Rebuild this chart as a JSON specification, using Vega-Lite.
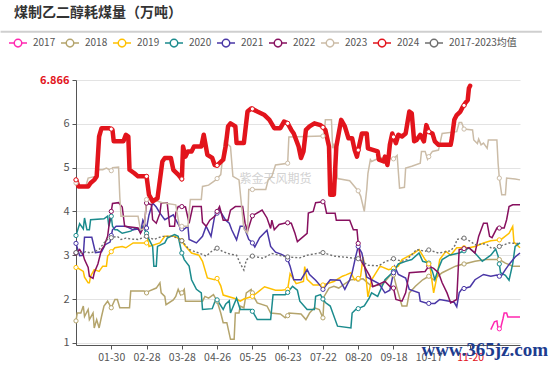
{
"$schema":"https://vega.github.io/schema/vega-lite/v6.json",
"width":444,"height":265,
"autosize":{"type":"none"},
"padding":{"left":76,"top":80,"right":30,"bottom":20},
"background":"white",
"config":{"view":{"stroke":null},"font":"Noto Sans CJK SC"},
"title":{"text":"煤制乙二醇耗煤量（万吨）","anchor":"start","frame":"group","dx":-62,"offset":8,"fontSize":14,"fontWeight":"bold","color":"#333","font":"Noto Sans CJK SC"},
"datasets":{
"lines":[
{"s":"2017","d":342,"v":1.3},{"s":"2017","d":345,"v":1.48},{"s":"2017","d":347,"v":1.5},{"s":"2017","d":348,"v":1.32},{"s":"2017","d":350,"v":1.33},{"s":"2017","d":352,"v":1.55},{"s":"2017","d":353,"v":1.68},{"s":"2017","d":355,"v":1.68},{"s":"2017","d":356,"v":1.59},{"s":"2017","d":366,"v":1.59},
{"s":"2018","d":1,"v":1.5},{"s":"2018","d":2,"v":1.68},{"s":"2018","d":5,"v":1.68},{"s":"2018","d":7,"v":1.84},{"s":"2018","d":8,"v":1.6},{"s":"2018","d":11,"v":1.76},{"s":"2018","d":12,"v":1.53},{"s":"2018","d":15,"v":1.68},{"s":"2018","d":16,"v":1.34},{"s":"2018","d":18,"v":1.53},{"s":"2018","d":20,"v":1.34},{"s":"2018","d":22,"v":1.6},{"s":"2018","d":24,"v":1.84},{"s":"2018","d":27,"v":1.95},{"s":"2018","d":30,"v":1.8},{"s":"2018","d":33,"v":1.99},{"s":"2018","d":35,"v":1.99},{"s":"2018","d":37,"v":1.8},{"s":"2018","d":45,"v":1.8},{"s":"2018","d":46,"v":2.18},{"s":"2018","d":57,"v":2.18},{"s":"2018","d":59,"v":2.14},{"s":"2018","d":61,"v":2.18},{"s":"2018","d":67,"v":2.25},{"s":"2018","d":70,"v":2.37},{"s":"2018","d":71,"v":2.14},{"s":"2018","d":74,"v":2.06},{"s":"2018","d":75,"v":1.87},{"s":"2018","d":81,"v":1.98},{"s":"2018","d":83,"v":2.06},{"s":"2018","d":85,"v":2.22},{"s":"2018","d":87,"v":2.1},{"s":"2018","d":90,"v":2.22},{"s":"2018","d":91,"v":1.95},{"s":"2018","d":105,"v":1.95},{"s":"2018","d":107,"v":2.06},{"s":"2018","d":110,"v":2.02},{"s":"2018","d":114,"v":2.1},{"s":"2018","d":117,"v":1.95},{"s":"2018","d":120,"v":1.68},{"s":"2018","d":122,"v":1.46},{"s":"2018","d":125,"v":1.46},{"s":"2018","d":128,"v":1.08},{"s":"2018","d":131,"v":1.08},{"s":"2018","d":132,"v":1.68},{"s":"2018","d":135,"v":1.68},{"s":"2018","d":136,"v":1.84},{"s":"2018","d":139,"v":1.8},{"s":"2018","d":141,"v":2.14},{"s":"2018","d":145,"v":2.22},{"s":"2018","d":147,"v":2.06},{"s":"2018","d":150,"v":1.91},{"s":"2018","d":158,"v":1.84},{"s":"2018","d":161,"v":1.68},{"s":"2018","d":169,"v":1.66},{"s":"2018","d":173,"v":1.57},{"s":"2018","d":176,"v":1.68},{"s":"2018","d":186,"v":1.66},{"s":"2018","d":190,"v":1.53},{"s":"2018","d":193,"v":1.68},{"s":"2018","d":197,"v":1.8},{"s":"2018","d":201,"v":1.76},{"s":"2018","d":204,"v":1.57},{"s":"2018","d":205,"v":2.06},{"s":"2018","d":209,"v":2.25},{"s":"2018","d":213,"v":2.29},{"s":"2018","d":217,"v":2.25},{"s":"2018","d":221,"v":2.33},{"s":"2018","d":227,"v":2.44},{"s":"2018","d":237,"v":2.46},{"s":"2018","d":244,"v":2.29},{"s":"2018","d":253,"v":2.33},{"s":"2018","d":261,"v":2.6},{"s":"2018","d":265,"v":2.22},{"s":"2018","d":269,"v":1.84},{"s":"2018","d":273,"v":1.84},{"s":"2018","d":275,"v":2.14},{"s":"2018","d":280,"v":2.29},{"s":"2018","d":286,"v":2.44},{"s":"2018","d":291,"v":2.52},{"s":"2018","d":295,"v":2.44},{"s":"2018","d":302,"v":2.6},{"s":"2018","d":313,"v":2.75},{"s":"2018","d":318,"v":2.79},{"s":"2018","d":329,"v":2.86},{"s":"2018","d":338,"v":2.9},{"s":"2018","d":349,"v":2.9},{"s":"2018","d":354,"v":2.82},{"s":"2018","d":360,"v":2.75},{"s":"2018","d":366,"v":2.75},
{"s":"2019","d":1,"v":2.72},{"s":"2019","d":3,"v":2.7},{"s":"2019","d":7,"v":2.63},{"s":"2019","d":8,"v":2.5},{"s":"2019","d":11,"v":2.37},{"s":"2019","d":12,"v":2.37},{"s":"2019","d":13,"v":2.52},{"s":"2019","d":16,"v":2.67},{"s":"2019","d":20,"v":2.63},{"s":"2019","d":23,"v":2.75},{"s":"2019","d":26,"v":2.75},{"s":"2019","d":27,"v":2.98},{"s":"2019","d":28,"v":3.01},{"s":"2019","d":33,"v":3.17},{"s":"2019","d":39,"v":3.2},{"s":"2019","d":42,"v":3.17},{"s":"2019","d":48,"v":3.28},{"s":"2019","d":59,"v":3.28},{"s":"2019","d":60,"v":3.36},{"s":"2019","d":61,"v":3.2},{"s":"2019","d":70,"v":3.28},{"s":"2019","d":74,"v":3.43},{"s":"2019","d":82,"v":3.43},{"s":"2019","d":87,"v":3.36},{"s":"2019","d":90,"v":3.24},{"s":"2019","d":96,"v":3.05},{"s":"2019","d":102,"v":3.0},{"s":"2019","d":105,"v":2.86},{"s":"2019","d":109,"v":2.48},{"s":"2019","d":115,"v":2.44},{"s":"2019","d":117,"v":2.47},{"s":"2019","d":120,"v":2.3},{"s":"2019","d":122,"v":2.09},{"s":"2019","d":133,"v":2.0},{"s":"2019","d":136,"v":1.95},{"s":"2019","d":139,"v":2.0},{"s":"2019","d":145,"v":2.05},{"s":"2019","d":151,"v":2.17},{"s":"2019","d":156,"v":2.28},{"s":"2019","d":165,"v":2.2},{"s":"2019","d":170,"v":2.2},{"s":"2019","d":175,"v":2.22},{"s":"2019","d":177,"v":2.58},{"s":"2019","d":182,"v":2.35},{"s":"2019","d":188,"v":2.4},{"s":"2019","d":189,"v":2.74},{"s":"2019","d":191,"v":2.45},{"s":"2019","d":196,"v":2.32},{"s":"2019","d":203,"v":2.32},{"s":"2019","d":213,"v":2.4},{"s":"2019","d":220,"v":2.52},{"s":"2019","d":223,"v":2.55},{"s":"2019","d":227,"v":2.6},{"s":"2019","d":230,"v":2.44},{"s":"2019","d":235,"v":2.52},{"s":"2019","d":237,"v":2.96},{"s":"2019","d":239,"v":2.6},{"s":"2019","d":241,"v":2.05},{"s":"2019","d":244,"v":2.44},{"s":"2019","d":251,"v":2.75},{"s":"2019","d":258,"v":2.67},{"s":"2019","d":266,"v":2.75},{"s":"2019","d":269,"v":2.9},{"s":"2019","d":279,"v":3.05},{"s":"2019","d":283,"v":3.13},{"s":"2019","d":288,"v":2.9},{"s":"2019","d":292,"v":2.75},{"s":"2019","d":295,"v":2.14},{"s":"2019","d":298,"v":2.55},{"s":"2019","d":300,"v":2.9},{"s":"2019","d":305,"v":3.09},{"s":"2019","d":309,"v":3.0},{"s":"2019","d":314,"v":3.17},{"s":"2019","d":324,"v":3.17},{"s":"2019","d":329,"v":3.2},{"s":"2019","d":336,"v":3.28},{"s":"2019","d":342,"v":3.33},{"s":"2019","d":350,"v":3.35},{"s":"2019","d":357,"v":3.5},{"s":"2019","d":360,"v":3.66},{"s":"2019","d":361,"v":3.3},{"s":"2019","d":366,"v":3.17},
{"s":"2020","d":1,"v":3.45},{"s":"2020","d":4,"v":3.72},{"s":"2020","d":7,"v":3.6},{"s":"2020","d":8,"v":3.85},{"s":"2020","d":10,"v":3.58},{"s":"2020","d":12,"v":3.58},{"s":"2020","d":13,"v":3.81},{"s":"2020","d":24,"v":3.83},{"s":"2020","d":27,"v":3.89},{"s":"2020","d":28,"v":3.66},{"s":"2020","d":30,"v":3.89},{"s":"2020","d":31,"v":3.66},{"s":"2020","d":33,"v":3.58},{"s":"2020","d":35,"v":3.58},{"s":"2020","d":39,"v":3.5},{"s":"2020","d":46,"v":3.55},{"s":"2020","d":50,"v":3.62},{"s":"2020","d":54,"v":3.58},{"s":"2020","d":56,"v":3.66},{"s":"2020","d":59,"v":3.5},{"s":"2020","d":61,"v":3.36},{"s":"2020","d":64,"v":3.2},{"s":"2020","d":65,"v":2.75},{"s":"2020","d":67,"v":2.75},{"s":"2020","d":68,"v":3.2},{"s":"2020","d":74,"v":3.28},{"s":"2020","d":76,"v":3.39},{"s":"2020","d":82,"v":3.47},{"s":"2020","d":85,"v":3.43},{"s":"2020","d":87,"v":3.17},{"s":"2020","d":90,"v":2.9},{"s":"2020","d":94,"v":2.75},{"s":"2020","d":96,"v":2.44},{"s":"2020","d":100,"v":2.22},{"s":"2020","d":104,"v":2.14},{"s":"2020","d":105,"v":1.76},{"s":"2020","d":113,"v":1.78},{"s":"2020","d":116,"v":2.0},{"s":"2020","d":122,"v":1.76},{"s":"2020","d":124,"v":1.88},{"s":"2020","d":127,"v":1.96},{"s":"2020","d":128,"v":1.68},{"s":"2020","d":133,"v":2.02},{"s":"2020","d":136,"v":1.76},{"s":"2020","d":145,"v":1.76},{"s":"2020","d":147,"v":1.68},{"s":"2020","d":150,"v":1.53},{"s":"2020","d":161,"v":1.53},{"s":"2020","d":163,"v":2.1},{"s":"2020","d":173,"v":2.1},{"s":"2020","d":179,"v":2.29},{"s":"2020","d":183,"v":2.2},{"s":"2020","d":185,"v":1.95},{"s":"2020","d":191,"v":1.76},{"s":"2020","d":197,"v":1.76},{"s":"2020","d":198,"v":2.06},{"s":"2020","d":202,"v":2.1},{"s":"2020","d":206,"v":1.92},{"s":"2020","d":210,"v":1.84},{"s":"2020","d":216,"v":1.38},{"s":"2020","d":227,"v":1.34},{"s":"2020","d":228,"v":1.68},{"s":"2020","d":231,"v":1.76},{"s":"2020","d":238,"v":1.84},{"s":"2020","d":242,"v":2.02},{"s":"2020","d":244,"v":2.14},{"s":"2020","d":249,"v":2.06},{"s":"2020","d":255,"v":2.44},{"s":"2020","d":261,"v":2.6},{"s":"2020","d":266,"v":2.8},{"s":"2020","d":272,"v":2.86},{"s":"2020","d":277,"v":2.9},{"s":"2020","d":283,"v":3.05},{"s":"2020","d":286,"v":2.86},{"s":"2020","d":291,"v":2.82},{"s":"2020","d":294,"v":2.63},{"s":"2020","d":296,"v":2.44},{"s":"2020","d":299,"v":2.7},{"s":"2020","d":302,"v":2.9},{"s":"2020","d":308,"v":3.0},{"s":"2020","d":316,"v":3.05},{"s":"2020","d":320,"v":3.1},{"s":"2020","d":324,"v":3.17},{"s":"2020","d":329,"v":3.05},{"s":"2020","d":335,"v":2.86},{"s":"2020","d":342,"v":3.0},{"s":"2020","d":346,"v":3.14},{"s":"2020","d":348,"v":2.98},{"s":"2020","d":350,"v":2.6},{"s":"2020","d":354,"v":2.54},{"s":"2020","d":357,"v":2.43},{"s":"2020","d":360,"v":2.8},{"s":"2020","d":362,"v":3.2},{"s":"2020","d":366,"v":3.28},
{"s":"2021","d":1,"v":3.27},{"s":"2021","d":4,"v":2.99},{"s":"2021","d":7,"v":3.0},{"s":"2021","d":8,"v":3.41},{"s":"2021","d":14,"v":3.41},{"s":"2021","d":17,"v":3.06},{"s":"2021","d":22,"v":3.08},{"s":"2021","d":25,"v":3.24},{"s":"2021","d":29,"v":3.3},{"s":"2021","d":31,"v":3.58},{"s":"2021","d":34,"v":3.66},{"s":"2021","d":42,"v":3.66},{"s":"2021","d":48,"v":3.58},{"s":"2021","d":52,"v":3.6},{"s":"2021","d":54,"v":3.52},{"s":"2021","d":56,"v":3.8},{"s":"2021","d":59,"v":3.62},{"s":"2021","d":61,"v":3.92},{"s":"2021","d":64,"v":4.19},{"s":"2021","d":67,"v":4.1},{"s":"2021","d":70,"v":3.96},{"s":"2021","d":74,"v":3.81},{"s":"2021","d":81,"v":3.92},{"s":"2021","d":83,"v":3.81},{"s":"2021","d":86,"v":3.66},{"s":"2021","d":89,"v":3.58},{"s":"2021","d":93,"v":3.66},{"s":"2021","d":94,"v":3.36},{"s":"2021","d":100,"v":3.28},{"s":"2021","d":105,"v":3.43},{"s":"2021","d":108,"v":3.66},{"s":"2021","d":112,"v":3.43},{"s":"2021","d":115,"v":3.89},{"s":"2021","d":117,"v":3.96},{"s":"2021","d":119,"v":4.03},{"s":"2021","d":124,"v":3.8},{"s":"2021","d":127,"v":3.73},{"s":"2021","d":129,"v":3.58},{"s":"2021","d":133,"v":3.35},{"s":"2021","d":136,"v":3.66},{"s":"2021","d":139,"v":3.66},{"s":"2021","d":143,"v":3.36},{"s":"2021","d":145,"v":3.31},{"s":"2021","d":148,"v":3.19},{"s":"2021","d":152,"v":3.4},{"s":"2021","d":158,"v":3.57},{"s":"2021","d":161,"v":3.2},{"s":"2021","d":165,"v":3.07},{"s":"2021","d":170,"v":3.02},{"s":"2021","d":174,"v":2.96},{"s":"2021","d":177,"v":2.75},{"s":"2021","d":180,"v":2.44},{"s":"2021","d":186,"v":2.44},{"s":"2021","d":191,"v":2.67},{"s":"2021","d":193,"v":2.56},{"s":"2021","d":198,"v":2.43},{"s":"2021","d":202,"v":2.3},{"s":"2021","d":204,"v":2.22},{"s":"2021","d":210,"v":2.44},{"s":"2021","d":218,"v":2.43},{"s":"2021","d":222,"v":2.22},{"s":"2021","d":226,"v":2.44},{"s":"2021","d":228,"v":2.6},{"s":"2021","d":231,"v":2.98},{"s":"2021","d":233,"v":3.2},{"s":"2021","d":236,"v":3.05},{"s":"2021","d":240,"v":2.5},{"s":"2021","d":244,"v":2.44},{"s":"2021","d":250,"v":2.35},{"s":"2021","d":255,"v":2.14},{"s":"2021","d":259,"v":2.2},{"s":"2021","d":263,"v":2.74},{"s":"2021","d":266,"v":2.56},{"s":"2021","d":272,"v":2.48},{"s":"2021","d":275,"v":2.22},{"s":"2021","d":283,"v":2.14},{"s":"2021","d":284,"v":1.95},{"s":"2021","d":290,"v":1.9},{"s":"2021","d":296,"v":1.9},{"s":"2021","d":300,"v":1.99},{"s":"2021","d":308,"v":1.95},{"s":"2021","d":312,"v":1.92},{"s":"2021","d":314,"v":1.82},{"s":"2021","d":316,"v":2.14},{"s":"2021","d":318,"v":2.22},{"s":"2021","d":325,"v":2.28},{"s":"2021","d":329,"v":2.44},{"s":"2021","d":336,"v":2.56},{"s":"2021","d":342,"v":2.52},{"s":"2021","d":347,"v":2.55},{"s":"2021","d":350,"v":2.5},{"s":"2021","d":354,"v":2.67},{"s":"2021","d":357,"v":2.79},{"s":"2021","d":362,"v":2.96},{"s":"2021","d":366,"v":3.05},
{"s":"2022","d":1,"v":3.05},{"s":"2022","d":4,"v":3.13},{"s":"2022","d":7,"v":3.0},{"s":"2022","d":8,"v":2.9},{"s":"2022","d":11,"v":2.72},{"s":"2022","d":12,"v":2.52},{"s":"2022","d":15,"v":2.47},{"s":"2022","d":16,"v":2.6},{"s":"2022","d":19,"v":2.8},{"s":"2022","d":22,"v":3.13},{"s":"2022","d":24,"v":3.2},{"s":"2022","d":27,"v":3.43},{"s":"2022","d":29,"v":3.87},{"s":"2022","d":31,"v":4.18},{"s":"2022","d":36,"v":4.2},{"s":"2022","d":39,"v":4.1},{"s":"2022","d":41,"v":3.66},{"s":"2022","d":52,"v":3.62},{"s":"2022","d":54,"v":3.5},{"s":"2022","d":57,"v":3.66},{"s":"2022","d":59,"v":4.19},{"s":"2022","d":63,"v":4.15},{"s":"2022","d":64,"v":3.81},{"s":"2022","d":67,"v":3.73},{"s":"2022","d":70,"v":3.96},{"s":"2022","d":71,"v":4.19},{"s":"2022","d":76,"v":4.19},{"s":"2022","d":78,"v":3.66},{"s":"2022","d":82,"v":3.66},{"s":"2022","d":83,"v":3.96},{"s":"2022","d":85,"v":4.11},{"s":"2022","d":91,"v":4.1},{"s":"2022","d":94,"v":3.73},{"s":"2022","d":97,"v":4.11},{"s":"2022","d":104,"v":4.11},{"s":"2022","d":105,"v":3.75},{"s":"2022","d":108,"v":3.66},{"s":"2022","d":111,"v":3.8},{"s":"2022","d":115,"v":3.89},{"s":"2022","d":119,"v":4.11},{"s":"2022","d":122,"v":3.8},{"s":"2022","d":126,"v":3.8},{"s":"2022","d":128,"v":4.03},{"s":"2022","d":132,"v":4.11},{"s":"2022","d":138,"v":4.11},{"s":"2022","d":140,"v":3.73},{"s":"2022","d":142,"v":3.55},{"s":"2022","d":146,"v":3.9},{"s":"2022","d":154,"v":4.03},{"s":"2022","d":158,"v":3.85},{"s":"2022","d":161,"v":3.61},{"s":"2022","d":162,"v":3.8},{"s":"2022","d":164,"v":3.58},{"s":"2022","d":168,"v":3.7},{"s":"2022","d":174,"v":3.74},{"s":"2022","d":178,"v":3.73},{"s":"2022","d":181,"v":3.5},{"s":"2022","d":183,"v":3.31},{"s":"2022","d":191,"v":3.5},{"s":"2022","d":192,"v":3.96},{"s":"2022","d":196,"v":4.0},{"s":"2022","d":198,"v":4.2},{"s":"2022","d":205,"v":4.22},{"s":"2022","d":207,"v":3.96},{"s":"2022","d":214,"v":3.96},{"s":"2022","d":215,"v":3.8},{"s":"2022","d":226,"v":3.8},{"s":"2022","d":229,"v":3.58},{"s":"2022","d":232,"v":3.58},{"s":"2022","d":233,"v":3.27},{"s":"2022","d":235,"v":2.89},{"s":"2022","d":239,"v":2.7},{"s":"2022","d":243,"v":2.5},{"s":"2022","d":245,"v":2.28},{"s":"2022","d":251,"v":2.35},{"s":"2022","d":255,"v":2.4},{"s":"2022","d":259,"v":2.29},{"s":"2022","d":262,"v":2.25},{"s":"2022","d":264,"v":1.99},{"s":"2022","d":269,"v":1.95},{"s":"2022","d":272,"v":2.14},{"s":"2022","d":275,"v":2.6},{"s":"2022","d":288,"v":2.63},{"s":"2022","d":291,"v":2.75},{"s":"2022","d":295,"v":2.7},{"s":"2022","d":299,"v":2.6},{"s":"2022","d":302,"v":2.37},{"s":"2022","d":306,"v":2.14},{"s":"2022","d":309,"v":1.91},{"s":"2022","d":314,"v":1.99},{"s":"2022","d":316,"v":3.13},{"s":"2022","d":324,"v":3.17},{"s":"2022","d":329,"v":3.05},{"s":"2022","d":332,"v":3.43},{"s":"2022","d":336,"v":3.73},{"s":"2022","d":339,"v":3.73},{"s":"2022","d":341,"v":3.43},{"s":"2022","d":343,"v":3.4},{"s":"2022","d":347,"v":3.62},{"s":"2022","d":353,"v":3.62},{"s":"2022","d":355,"v":3.81},{"s":"2022","d":357,"v":4.11},{"s":"2022","d":360,"v":4.15},{"s":"2022","d":366,"v":4.15},
{"s":"2023","d":1,"v":4.65},{"s":"2023","d":3,"v":4.57},{"s":"2023","d":9,"v":4.57},{"s":"2023","d":11,"v":4.76},{"s":"2023","d":17,"v":4.8},{"s":"2023","d":19,"v":4.95},{"s":"2023","d":23,"v":4.95},{"s":"2023","d":26,"v":4.99},{"s":"2023","d":30,"v":4.93},{"s":"2023","d":31,"v":5.0},{"s":"2023","d":36,"v":5.01},{"s":"2023","d":37,"v":4.34},{"s":"2023","d":38,"v":3.89},{"s":"2023","d":52,"v":3.89},{"s":"2023","d":54,"v":3.58},{"s":"2023","d":57,"v":3.6},{"s":"2023","d":59,"v":4.27},{"s":"2023","d":64,"v":4.27},{"s":"2023","d":72,"v":4.2},{"s":"2023","d":83,"v":4.15},{"s":"2023","d":86,"v":3.66},{"s":"2023","d":93,"v":3.66},{"s":"2023","d":95,"v":4.27},{"s":"2023","d":104,"v":4.27},{"s":"2023","d":105,"v":4.57},{"s":"2023","d":110,"v":4.6},{"s":"2023","d":116,"v":4.72},{"s":"2023","d":120,"v":4.84},{"s":"2023","d":123,"v":5.6},{"s":"2023","d":128,"v":5.48},{"s":"2023","d":130,"v":4.8},{"s":"2023","d":135,"v":4.72},{"s":"2023","d":139,"v":3.6},{"s":"2023","d":142,"v":3.5},{"s":"2023","d":143,"v":4.5},{"s":"2023","d":157,"v":4.5},{"s":"2023","d":159,"v":4.72},{"s":"2023","d":162,"v":4.8},{"s":"2023","d":165,"v":5.06},{"s":"2023","d":175,"v":5.1},{"s":"2023","d":176,"v":5.7},{"s":"2023","d":205,"v":5.72},{"s":"2023","d":206,"v":6.09},{"s":"2023","d":211,"v":6.09},{"s":"2023","d":212,"v":5.44},{"s":"2023","d":213,"v":5.55},{"s":"2023","d":216,"v":4.75},{"s":"2023","d":226,"v":4.7},{"s":"2023","d":232,"v":4.5},{"s":"2023","d":235,"v":4.35},{"s":"2023","d":238,"v":4.0},{"s":"2023","d":240,"v":4.5},{"s":"2023","d":241,"v":4.87},{"s":"2023","d":243,"v":5.18},{"s":"2023","d":244,"v":5.14},{"s":"2023","d":251,"v":5.23},{"s":"2023","d":261,"v":5.2},{"s":"2023","d":265,"v":5.28},{"s":"2023","d":267,"v":4.53},{"s":"2023","d":271,"v":4.55},{"s":"2023","d":272,"v":4.99},{"s":"2023","d":277,"v":5.03},{"s":"2023","d":284,"v":5.1},{"s":"2023","d":285,"v":5.37},{"s":"2023","d":288,"v":5.37},{"s":"2023","d":290,"v":5.19},{"s":"2023","d":294,"v":5.37},{"s":"2023","d":299,"v":5.4},{"s":"2023","d":302,"v":5.78},{"s":"2023","d":314,"v":5.82},{"s":"2023","d":316,"v":6.03},{"s":"2023","d":318,"v":6.03},{"s":"2023","d":320,"v":5.88},{"s":"2023","d":327,"v":5.86},{"s":"2023","d":328,"v":5.63},{"s":"2023","d":331,"v":5.55},{"s":"2023","d":332,"v":5.65},{"s":"2023","d":334,"v":5.52},{"s":"2023","d":336,"v":5.56},{"s":"2023","d":339,"v":5.44},{"s":"2023","d":340,"v":5.63},{"s":"2023","d":347,"v":5.63},{"s":"2023","d":348,"v":5.1},{"s":"2023","d":349,"v":4.76},{"s":"2023","d":351,"v":4.38},{"s":"2023","d":354,"v":4.38},{"s":"2023","d":355,"v":4.76},{"s":"2023","d":362,"v":4.74},{"s":"2023","d":366,"v":4.72},
{"s":"2017-2023均值","d":1,"v":3.06},{"s":"2017-2023均值","d":7,"v":3.06},{"s":"2017-2023均值","d":9,"v":3.08},{"s":"2017-2023均值","d":13,"v":3.05},{"s":"2017-2023均值","d":20,"v":3.13},{"s":"2017-2023均值","d":24,"v":3.28},{"s":"2017-2023均值","d":28,"v":3.39},{"s":"2017-2023均值","d":35,"v":3.43},{"s":"2017-2023均值","d":38,"v":3.36},{"s":"2017-2023均值","d":42,"v":3.39},{"s":"2017-2023均值","d":46,"v":3.37},{"s":"2017-2023均值","d":52,"v":3.36},{"s":"2017-2023均值","d":59,"v":3.43},{"s":"2017-2023均值","d":65,"v":3.36},{"s":"2017-2023均值","d":72,"v":3.43},{"s":"2017-2023均值","d":81,"v":3.43},{"s":"2017-2023均值","d":87,"v":3.36},{"s":"2017-2023均值","d":94,"v":3.13},{"s":"2017-2023均值","d":102,"v":3.05},{"s":"2017-2023均值","d":108,"v":2.98},{"s":"2017-2023均值","d":113,"v":3.1},{"s":"2017-2023均值","d":117,"v":3.16},{"s":"2017-2023均值","d":122,"v":3.08},{"s":"2017-2023均值","d":128,"v":3.02},{"s":"2017-2023均值","d":133,"v":3.0},{"s":"2017-2023均值","d":136,"v":2.81},{"s":"2017-2023均值","d":139,"v":2.66},{"s":"2017-2023均值","d":141,"v":2.89},{"s":"2017-2023均值","d":145,"v":2.98},{"s":"2017-2023均值","d":155,"v":2.93},{"s":"2017-2023均值","d":162,"v":3.04},{"s":"2017-2023均值","d":174,"v":2.96},{"s":"2017-2023均值","d":185,"v":2.94},{"s":"2017-2023均值","d":191,"v":3.0},{"s":"2017-2023均值","d":203,"v":3.06},{"s":"2017-2023均值","d":213,"v":2.98},{"s":"2017-2023均值","d":224,"v":2.95},{"s":"2017-2023均值","d":233,"v":2.92},{"s":"2017-2023均值","d":241,"v":2.77},{"s":"2017-2023均值","d":250,"v":2.76},{"s":"2017-2023均值","d":255,"v":2.85},{"s":"2017-2023均值","d":262,"v":2.92},{"s":"2017-2023均值","d":269,"v":2.86},{"s":"2017-2023均值","d":273,"v":2.9},{"s":"2017-2023均值","d":277,"v":3.01},{"s":"2017-2023均值","d":281,"v":3.13},{"s":"2017-2023均值","d":288,"v":3.09},{"s":"2017-2023均值","d":299,"v":3.05},{"s":"2017-2023均值","d":309,"v":3.1},{"s":"2017-2023均值","d":313,"v":3.24},{"s":"2017-2023均值","d":314,"v":3.36},{"s":"2017-2023均值","d":320,"v":3.39},{"s":"2017-2023均值","d":325,"v":3.32},{"s":"2017-2023均值","d":329,"v":3.24},{"s":"2017-2023均值","d":338,"v":3.26},{"s":"2017-2023均值","d":343,"v":3.15},{"s":"2017-2023均值","d":349,"v":3.2},{"s":"2017-2023均值","d":353,"v":3.24},{"s":"2017-2023均值","d":357,"v":3.28},{"s":"2017-2023均值","d":362,"v":3.27},{"s":"2017-2023均值","d":366,"v":3.27},
{"s":"2024","d":1,"v":4.72},{"s":"2024","d":3,"v":4.57},{"s":"2024","d":11,"v":4.57},{"s":"2024","d":13,"v":4.65},{"s":"2024","d":16,"v":4.72},{"s":"2024","d":18,"v":4.8},{"s":"2024","d":20,"v":5.71},{"s":"2024","d":22,"v":5.9},{"s":"2024","d":28,"v":5.9},{"s":"2024","d":31,"v":5.86},{"s":"2024","d":32,"v":5.6},{"s":"2024","d":40,"v":5.6},{"s":"2024","d":42,"v":5.75},{"s":"2024","d":44,"v":5.71},{"s":"2024","d":45,"v":4.95},{"s":"2024","d":49,"v":4.87},{"s":"2024","d":52,"v":4.8},{"s":"2024","d":59,"v":4.8},{"s":"2024","d":61,"v":4.38},{"s":"2024","d":64,"v":4.23},{"s":"2024","d":68,"v":4.3},{"s":"2024","d":72,"v":5.14},{"s":"2024","d":74,"v":5.22},{"s":"2024","d":79,"v":5.22},{"s":"2024","d":81,"v":4.95},{"s":"2024","d":85,"v":4.84},{"s":"2024","d":88,"v":4.74},{"s":"2024","d":89,"v":5.48},{"s":"2024","d":91,"v":5.25},{"s":"2024","d":93,"v":5.37},{"s":"2024","d":96,"v":5.37},{"s":"2024","d":98,"v":5.48},{"s":"2024","d":104,"v":5.48},{"s":"2024","d":106,"v":5.75},{"s":"2024","d":109,"v":5.29},{"s":"2024","d":113,"v":5.22},{"s":"2024","d":115,"v":5.06},{"s":"2024","d":117,"v":5.05},{"s":"2024","d":122,"v":5.18},{"s":"2024","d":124,"v":5.48},{"s":"2024","d":126,"v":5.94},{"s":"2024","d":128,"v":6.01},{"s":"2024","d":132,"v":5.94},{"s":"2024","d":133,"v":5.56},{"s":"2024","d":139,"v":5.56},{"s":"2024","d":142,"v":6.28},{"s":"2024","d":145,"v":6.35},{"s":"2024","d":150,"v":6.28},{"s":"2024","d":156,"v":6.2},{"s":"2024","d":160,"v":6.09},{"s":"2024","d":164,"v":5.9},{"s":"2024","d":169,"v":5.9},{"s":"2024","d":172,"v":6.05},{"s":"2024","d":175,"v":6.01},{"s":"2024","d":178,"v":5.86},{"s":"2024","d":180,"v":5.78},{"s":"2024","d":184,"v":5.48},{"s":"2024","d":186,"v":5.22},{"s":"2024","d":188,"v":5.37},{"s":"2024","d":190,"v":5.86},{"s":"2024","d":193,"v":5.94},{"s":"2024","d":197,"v":6.01},{"s":"2024","d":202,"v":5.97},{"s":"2024","d":206,"v":5.86},{"s":"2024","d":209,"v":5.48},{"s":"2024","d":210,"v":4.38},{"s":"2024","d":213,"v":4.38},{"s":"2024","d":215,"v":5.48},{"s":"2024","d":219,"v":6.09},{"s":"2024","d":222,"v":5.94},{"s":"2024","d":225,"v":5.67},{"s":"2024","d":228,"v":5.67},{"s":"2024","d":230,"v":5.41},{"s":"2024","d":232,"v":5.25},{"s":"2024","d":236,"v":5.78},{"s":"2024","d":240,"v":5.78},{"s":"2024","d":241,"v":5.44},{"s":"2024","d":249,"v":5.37},{"s":"2024","d":250,"v":5.18},{"s":"2024","d":254,"v":5.14},{"s":"2024","d":255,"v":5.25},{"s":"2024","d":257,"v":5.06},{"s":"2024","d":258,"v":5.25},{"s":"2024","d":259,"v":5.52},{"s":"2024","d":261,"v":5.78},{"s":"2024","d":264,"v":5.56},{"s":"2024","d":266,"v":5.75},{"s":"2024","d":269,"v":5.71},{"s":"2024","d":272,"v":5.78},{"s":"2024","d":275,"v":6.28},{"s":"2024","d":277,"v":6.24},{"s":"2024","d":279,"v":5.6},{"s":"2024","d":281,"v":5.63},{"s":"2024","d":284,"v":5.75},{"s":"2024","d":287,"v":5.6},{"s":"2024","d":289,"v":5.97},{"s":"2024","d":291,"v":5.82},{"s":"2024","d":294,"v":5.78},{"s":"2024","d":296,"v":5.6},{"s":"2024","d":299,"v":5.52},{"s":"2024","d":309,"v":5.52},{"s":"2024","d":310,"v":5.67},{"s":"2024","d":312,"v":6.09},{"s":"2024","d":314,"v":6.2},{"s":"2024","d":317,"v":6.28},{"s":"2024","d":319,"v":6.39},{"s":"2024","d":321,"v":6.47},{"s":"2024","d":323,"v":6.54},{"s":"2024","d":324,"v":6.81},{"s":"2024","d":325,"v":6.866},
{"s":"2017","d":349,"v":1.32},
{"s":"2018","d":88,"v":2.14},{"s":"2018","d":146,"v":2.14},{"s":"2018","d":175,"v":1.62},{"s":"2018","d":233,"v":2.45},{"s":"2018","d":262,"v":2.55},{"s":"2018","d":320,"v":2.8},
{"s":"2019","d":30,"v":3.08},{"s":"2019","d":88,"v":3.33},{"s":"2019","d":146,"v":2.06},{"s":"2019","d":204,"v":2.32},{"s":"2019","d":233,"v":2.47},{"s":"2019","d":262,"v":2.7},{"s":"2019","d":291,"v":2.8},{"s":"2019","d":320,"v":3.17},{"s":"2019","d":349,"v":3.35},
{"s":"2020","d":88,"v":3.05},{"s":"2020","d":117,"v":1.98},{"s":"2020","d":146,"v":1.72},{"s":"2020","d":175,"v":2.15},{"s":"2020","d":204,"v":2.0},{"s":"2020","d":233,"v":1.78},{"s":"2020","d":262,"v":2.63},{"s":"2020","d":349,"v":2.8},
{"s":"2021","d":30,"v":3.45},{"s":"2021","d":88,"v":3.6},{"s":"2021","d":146,"v":3.28},{"s":"2021","d":175,"v":2.9},{"s":"2021","d":262,"v":2.6},{"s":"2021","d":291,"v":1.9},{"s":"2021","d":320,"v":2.24},{"s":"2021","d":349,"v":2.52},
{"s":"2022","d":30,"v":4.0},{"s":"2022","d":88,"v":4.11},{"s":"2022","d":117,"v":4.0},{"s":"2022","d":175,"v":3.74},{"s":"2022","d":204,"v":4.22},{"s":"2022","d":320,"v":3.15},{"s":"2022","d":349,"v":3.62},
{"s":"2023","d":88,"v":3.66},{"s":"2023","d":117,"v":4.75},{"s":"2023","d":146,"v":4.5},{"s":"2023","d":204,"v":5.72},{"s":"2023","d":233,"v":4.47},{"s":"2023","d":262,"v":5.2},{"s":"2023","d":291,"v":5.25},
{"s":"2017-2023均值","d":30,"v":3.4},{"s":"2017-2023均值","d":88,"v":3.33},{"s":"2017-2023均值","d":146,"v":2.98},{"s":"2017-2023均值","d":175,"v":2.96},{"s":"2017-2023均值","d":204,"v":3.06},{"s":"2017-2023均值","d":291,"v":3.12},
{"s":"2024","d":30,"v":5.88},{"s":"2024","d":146,"v":6.34},{"s":"2024","d":204,"v":5.92},{"s":"2024","d":233,"v":5.4},{"s":"2024","d":262,"v":5.7},{"s":"2024","d":320,"v":6.42}
],
"notes":[
{"t":"紫金天风期货","d":165,"v":4.74,"k":"a"},
{"t":"www.365jz.com","d":337,"v":0.84,"k":"b"}
],
"sep":[
{"d":-61,"v":8.1},
{"d":384,"v":8.1}
]
},
"encoding":{
"x":{"field":"d","type":"quantitative","scale":{"domain":[1,366],"nice":false,"zero":false},
"axis":{"title":null,"grid":false,"values":[30,59,88,117,146,175,204,233,262,291,325],"labelExpr":"timeFormat(datetime(2024,0,datum.value),'%m-%d')","labelColor":{"expr":"datum.value==325 ? '#e2141c' : '#555555'"},"labelFontSize":10.5,"labelFont":"Noto Sans CJK SC","labelFlush":false,"labelOverlap":false,"domainColor":"#555555","tickColor":"#555555","tickSize":4,"labelPadding":3}},
"y":{"field":"v","type":"quantitative","scale":{"domain":[0.95,7],"nice":false,"zero":false},
"axis":{"title":null,"values":[1,2,3,4,5,6,7],"labelExpr":"datum.value==7 ? '6.866' : datum.label","labelColor":{"expr":"datum.value==7 ? '#e2141c' : '#555555'"},"labelFontWeight":{"expr":"datum.value==7 ? 'bold' : 'normal'"},"labelFontSize":11,"labelFont":"Noto Sans CJK SC","gridColor":"#e3e3e3","domainColor":"#555555","tickColor":"#555555","tickSize":4,"labelPadding":3}}
},
"layer":[
{"data":{"name":"notes"},"transform":[{"filter":"datum.k=='a'"}],"mark":{"type":"text","fontSize":12,"color":"#d2d2d2","font":"Noto Sans CJK SC"},"encoding":{"text":{"field":"t"}}},
{"data":{"name":"lines"},"transform":[{"filter":"datum.s!='2024' && datum.s!='2017-2023均值'"}],"mark":{"type":"line","strokeWidth":1.5},
"encoding":{"color":{"field":"s","type":"nominal","scale":{"domain":["2017","2018","2019","2020","2021","2022","2023","2024","2017-2023均值"],"range":["#ff27b0","#b4a46c","#ffc000","#1b8b8d","#4a37a6","#87105f","#cbbca7","#e2141c","#6f6f6f"]},
"legend":{"orient":"none","legendX":-68,"legendY":-47,"direction":"horizontal","columns":9,"title":null,"fillColor":"transparent","symbolType":"M-1,0L-0.42,0M0.42,0A0.42,0.42,0,1,1,-0.42,0A0.42,0.42,0,1,1,0.42,0M0.42,0L1,0","symbolSize":324,"symbolStrokeWidth":1.5,"symbolFillColor":"#ffffff","labelFontSize":10,"labelColor":"#555555","labelFont":"Noto Sans CJK SC","labelOffset":5,"columnPadding":2}}}},
{"data":{"name":"lines"},"transform":[{"filter":"datum.s=='2017-2023均值'"}],"mark":{"type":"line","strokeWidth":1.4,"strokeDash":[2,2]},"encoding":{"color":{"field":"s","type":"nominal"}}},
{"data":{"name":"lines"},"transform":[{"filter":"datum.s=='2024'"}],"mark":{"type":"line","strokeWidth":4.5,"strokeJoin":"round","strokeCap":"round"},"encoding":{"color":{"field":"s","type":"nominal"}}},
{"data":{"name":"lines"},"transform":[{"filter":"indexof([1,30,59,88,117,146,175,204,233,262,291,320,349], datum.d) >= 0"}],"mark":{"type":"point","shape":"circle","filled":false,"fill":"#ffffff","fillOpacity":1,"size":18,"strokeWidth":1,"opacity":1},"encoding":{"color":{"field":"s","type":"nominal"}}},
{"data":{"name":"notes"},"transform":[{"filter":"datum.k=='b'"}],"mark":{"type":"text","fontSize":19,"fontWeight":"bold","color":"#1d3c8f","font":"Liberation Serif"},"encoding":{"text":{"field":"t"}}},
{"data":{"name":"sep"},"mark":{"type":"line","color":"#cfcfcf","strokeWidth":2},"encoding":{}}
]
}
